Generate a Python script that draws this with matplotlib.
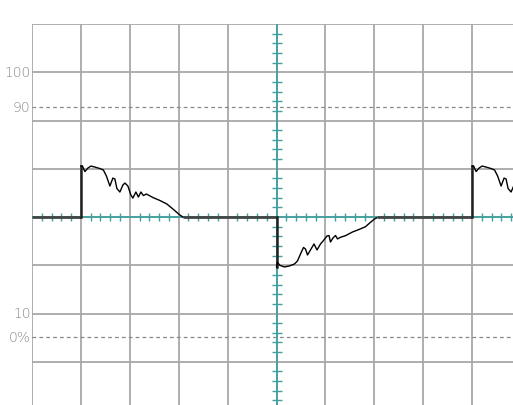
import numpy as np
import matplotlib.pyplot as plt

# ==========================================================
# DATA (divisions: x 0..10, y -4..4)
# ==========================================================

# positive pulse, time after edge / level
POS_T = [0.0, 0.0, 0.031, 0.082, 0.143, 0.204, 0.286, 0.389, 0.460, 0.522,
         0.593, 0.654, 0.695, 0.736, 0.797, 0.859, 0.900, 0.961, 1.022,
         1.063, 1.125, 1.176, 1.227, 1.278, 1.340, 1.472, 1.616, 1.759,
         1.881, 2.025, 2.086]
POS_V = [0.0, 1.056, 1.056, 0.942, 1.014, 1.056, 1.035, 1.004, 0.973, 0.849,
         0.642, 0.807, 0.787, 0.590, 0.518, 0.663, 0.704, 0.642, 0.455,
         0.393, 0.518, 0.414, 0.518, 0.445, 0.476, 0.404, 0.342, 0.269,
         0.166, 0.041, 0.0]

# negative pulse
NEG_T = [0.0, 0.0, 0.020, 0.072, 0.164, 0.266, 0.368, 0.429, 0.491, 0.552,
         0.593, 0.634, 0.695, 0.767, 0.828, 0.900, 0.961, 1.033, 1.074,
         1.104, 1.155, 1.207, 1.247, 1.309, 1.411, 1.554, 1.677, 1.820,
         1.922, 2.004, 2.045]
NEG_V = [0.0, -1.035, -0.942, -1.004, -1.035, -1.014, -0.973, -0.911, -0.766,
         -0.631, -0.663, -0.787, -0.683, -0.559, -0.683, -0.559, -0.487,
         -0.393, -0.383, -0.518, -0.435, -0.383, -0.455, -0.420, -0.387,
         -0.311, -0.263, -0.201, -0.110, -0.041, -0.02]

EDGES = [1.0, 5.0, 9.0]          # where each pulse starts
SHAPES = ["pos", "neg", "pos"]

LEVEL_LABELS = ["100", "90", "10", "0%"]
LEVEL_Y = [3.0, 2.28, -2.0, -2.48]
DASHED_Y = [2.28, -2.48]

GRID = "#a8a8a8"
TEAL = "#42a0a0"

# ==========================================================
# FIGURE
# ==========================================================

fig = plt.figure(figsize=(5.13, 4.06), dpi=100)
ax = fig.add_axes([32 / 513, -5 / 406, 489 / 513, 386 / 406])
ax.set_xlim(0, 10)
ax.set_ylim(-4, 4)
ax.axis("off")

# graticule
for x in range(0, 11):
    ax.axvline(x, color=GRID, lw=1.3, zorder=1)
for y in range(-4, 5):
    ax.axhline(y, color=GRID, lw=1.3, zorder=1)
for y in DASHED_Y:
    ax.axhline(y, color="#888888", lw=0.9, ls=(0, (3, 2.5)), zorder=1)

# center axes with minor ticks
ax.axhline(0, color=TEAL, lw=1.3, zorder=2)
ax.axvline(5, color=TEAL, lw=1.3, zorder=2)
minor = np.arange(0, 10.01, 0.2)
minor = minor[np.abs(minor - np.round(minor)) > 0.01]
ax.plot(minor, np.zeros_like(minor), ls="none", marker="|", ms=6, mew=1,
        color=TEAL, zorder=2)
minor_y = np.arange(-4, 4.01, 0.2)
minor_y = minor_y[np.abs(minor_y - np.round(minor_y)) > 0.01]
ax.plot(np.full_like(minor_y, 5), minor_y, ls="none", marker="_", ms=7,
        mew=1, color=TEAL, zorder=2)

# level labels
for lab, y in zip(LEVEL_LABELS, LEVEL_Y):
    ax.text(-0.03, y, lab, ha="right", va="center", fontsize=10,
            color="#888888", clip_on=False, family="DejaVu Sans",
            fontweight="light")

# ==========================================================
# TRACE
# ==========================================================

pulses = {"pos": (np.array(POS_T), np.array(POS_V)),
          "neg": (np.array(NEG_T), np.array(NEG_V))}

start = 0.0
for edge, shape in zip(EDGES, SHAPES):
    pt, pv = pulses[shape]
    ax.plot([start, edge], [0, 0], color="#444444", lw=2, zorder=3,
            solid_capstyle="butt")
    ax.plot([edge, edge], [0, pv[1]], color="#222222", lw=1.8, zorder=3)
    ax.plot(edge + pt[1:], pv[1:], color="black", lw=1.0, zorder=3)
    start = edge + pt[-1]
ax.plot([start, 10], [0, 0], color="#444444", lw=2, zorder=3)

fig.savefig("out.png", dpi=100)
